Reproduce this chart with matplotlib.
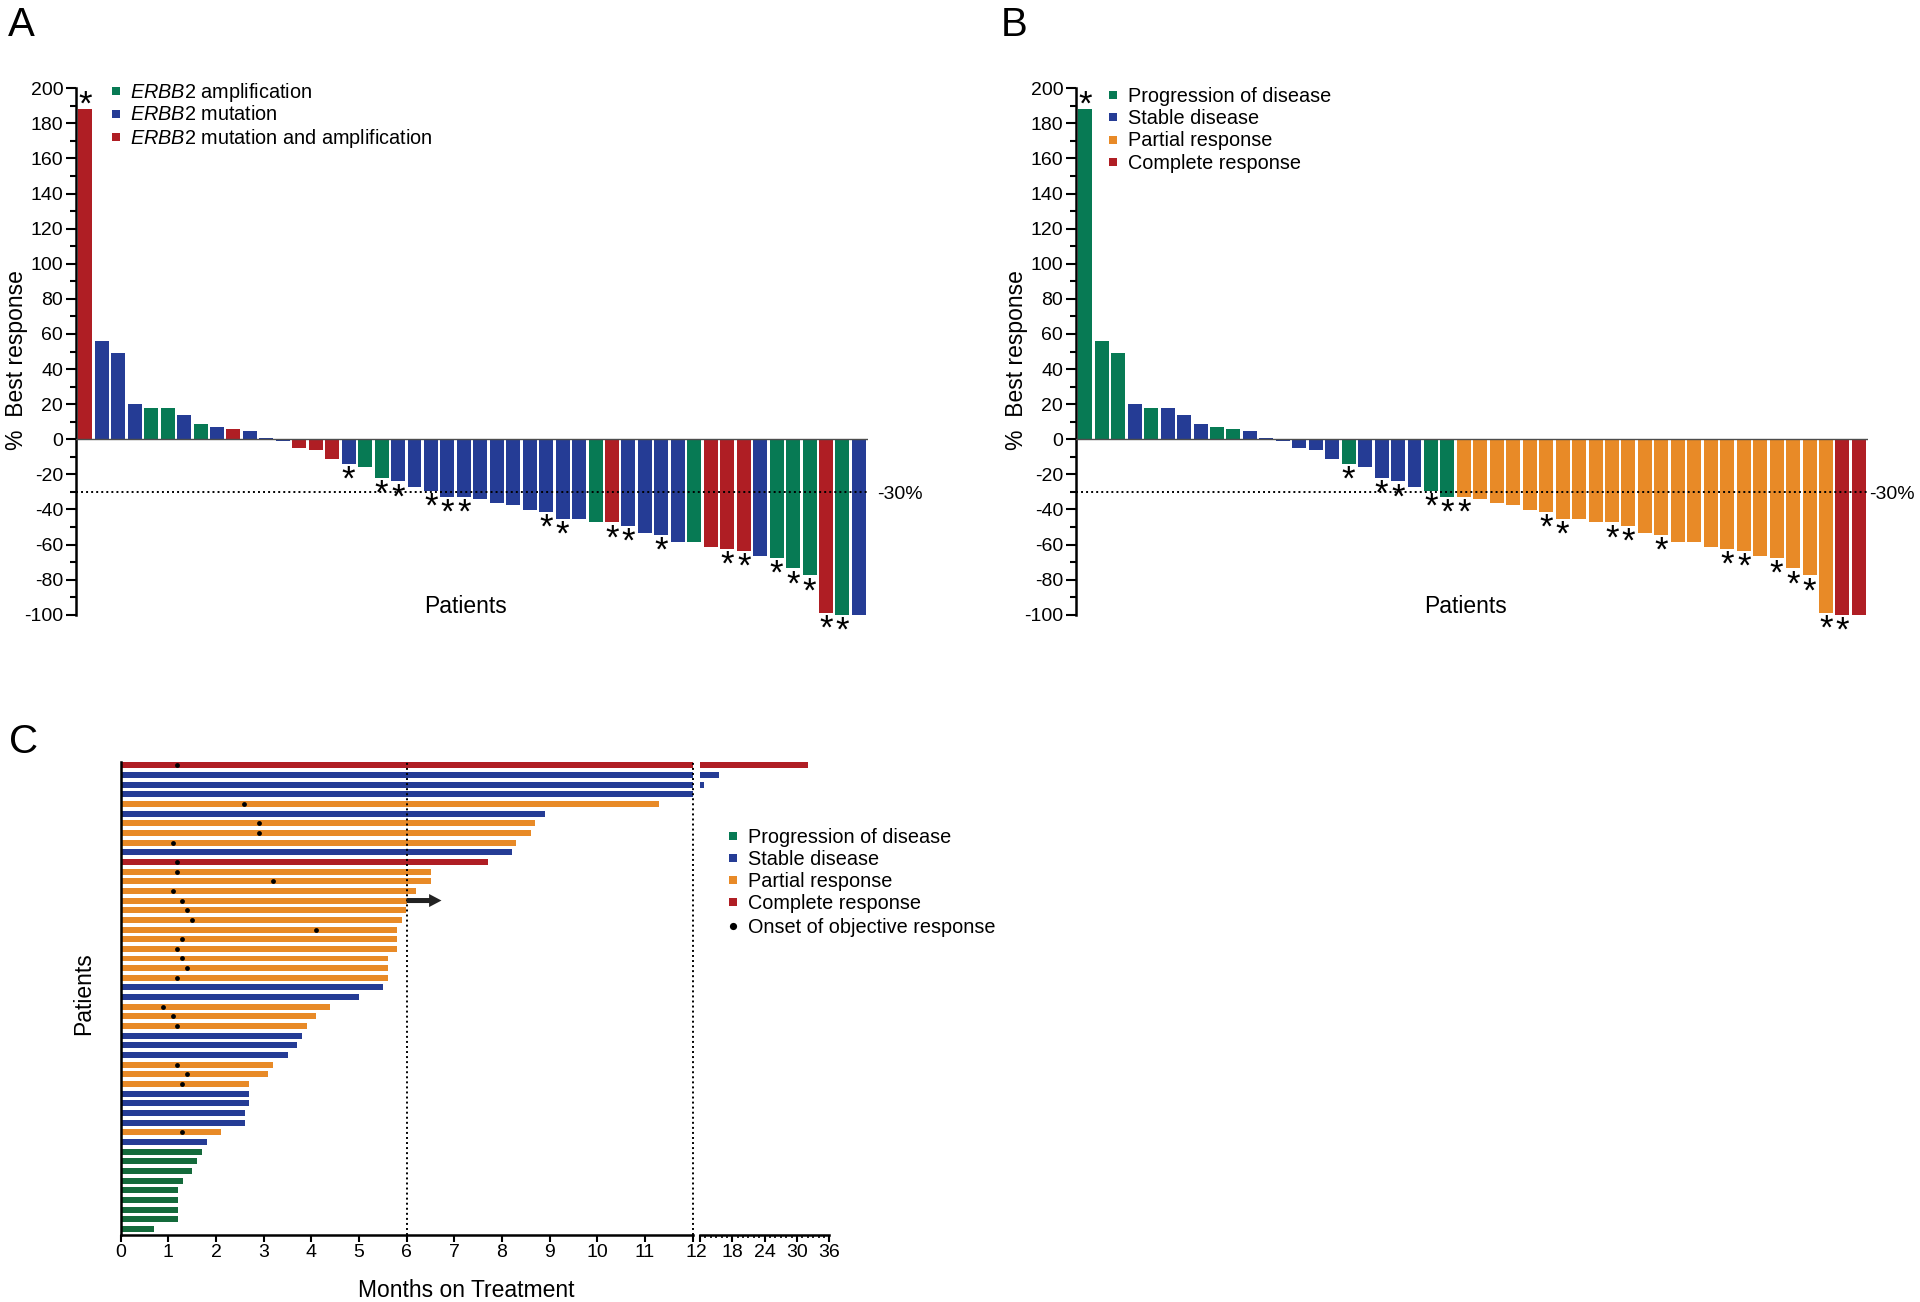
import numpy as np
import matplotlib
matplotlib.use('Agg')
import matplotlib.pyplot as plt
from matplotlib.lines import Line2D
from matplotlib.transforms import ScaledTranslation

plt.rcParams['font.family'] = ['Liberation Sans', 'DejaVu Sans']
plt.rcParams['mathtext.fontset'] = 'custom'
plt.rcParams['mathtext.rm'] = 'Liberation Sans'
plt.rcParams['mathtext.it'] = 'Liberation Sans:italic'
plt.rcParams['axes.unicode_minus'] = False

# ---------------- data ----------------
best_response = [188, 56, 49, 20, 18, 18, 14, 9, 7, 6, 5, 1, -1, -5, -6, -11,
                 -14, -16, -22, -24, -27, -29.4, -33, -33, -34.2, -36.1, -37.3,
                 -40.1, -41.3, -45.3, -45.3, -47.4, -47.4, -49.3, -53.3, -54.5,
                 -58.5, -58.5, -61.5, -62.5, -63.4, -66.5, -67.5, -73.6, -77.6,
                 -98.8, -100, -100]
genotype = ['MA', 'M', 'M', 'M', 'A', 'A', 'M', 'A', 'M', 'MA', 'M', 'M', 'M',
            'MA', 'MA', 'MA', 'M', 'A', 'A', 'M', 'M', 'M', 'M', 'M', 'M', 'M',
            'M', 'M', 'M', 'M', 'M', 'A', 'MA', 'M', 'M', 'M', 'M', 'A', 'MA',
            'MA', 'MA', 'M', 'A', 'A', 'A', 'MA', 'A', 'M']
response_b = (['PD', 'PD', 'PD', 'SD', 'PD', 'SD', 'SD', 'SD', 'PD', 'PD', 'SD',
               'SD', 'SD', 'SD', 'SD', 'SD', 'PD', 'SD', 'SD', 'SD', 'SD', 'PD',
               'PD'] + ['PR'] * 23 + ['CR', 'CR'])
starred = [1, 17, 19, 20, 22, 23, 24, 29, 30, 33, 34, 36, 40, 41, 43, 44, 45, 46, 47]
threshold = -30

months = [32.1, 15.5, 12.7, 12.0, 11.3, 8.9, 8.7, 8.6, 8.3, 8.2, 7.7, 6.5, 6.5,
          6.2, 6.0, 5.98, 5.9, 5.8, 5.8, 5.8, 5.6, 5.6, 5.6, 5.5, 5.0, 4.4, 4.1,
          3.9, 3.8, 3.7, 3.5, 3.2, 3.1, 2.7, 2.7, 2.7, 2.6, 2.6, 2.1, 1.8, 1.7,
          1.6, 1.5, 1.3, 1.2, 1.2, 1.2, 1.2, 0.7]
response_c = ['CR', 'SD', 'SD', 'SD', 'PR', 'SD', 'PR', 'PR', 'PR', 'SD', 'CR',
              'PR', 'PR', 'PR', 'PR', 'PR', 'PR', 'PR', 'PR', 'PR', 'PR', 'PR',
              'PR', 'SD', 'SD', 'PR', 'PR', 'PR', 'SD', 'SD', 'SD', 'PR', 'PR',
              'PR', 'SD', 'SD', 'SD', 'SD', 'PR', 'SD', 'PD', 'PD', 'PD', 'PD',
              'PD', 'PD', 'PD', 'PD', 'PD']
onset = [1.19, None, None, None, 2.59, None, 2.9, 2.9, 1.09, None, 1.19, 1.19,
         3.19, 1.09, 1.29, 1.39, 1.5, 4.1, 1.29, 1.19, 1.29, 1.39, 1.19, None,
         None, 0.89, 1.09, 1.19, None, None, None, 1.19, 1.39, 1.29, None, None,
         None, None, 1.29, None, None, None, None, None, None, None, None, None,
         None]
ongoing_rows = [15]

# ---------------- style ----------------
GREEN = '#077A54'
GREEN_C = '#146A3B'
BLUE = '#253C95'
RED = '#AF1E24'
ORANGE = '#E88A27'
geno_colors = {'A': GREEN, 'M': BLUE, 'MA': RED}
resp_colors = {'PD': GREEN, 'SD': BLUE, 'PR': ORANGE, 'CR': RED}
resp_colors_c = {'PD': GREEN_C, 'SD': BLUE, 'PR': ORANGE, 'CR': RED}

W, H = 1920, 1302
fig = plt.figure(figsize=(W / 100, H / 100), dpi=100)


def fx(px):
    return px / W


def fy(py):
    return 1 - py / H


DOT = (0, (1, 1.6))
TICK_FS = 14
LAB_FS = 16.5
LEG_FS = 14.3


def legend_row(x_sq, x_txt, y_c, color, label, marker='s', ms=5.6):
    fig.add_artist(Line2D([fx(x_sq)], [fy(y_c)], marker=marker, ms=ms,
                          color=color, mew=0, linestyle='none',
                          transform=fig.transFigure))
    fig.text(fx(x_txt), fy(y_c + 7), label, fontsize=LEG_FS, ha='left',
             va='baseline')


def waterfall(left_px, colors):
    ax = fig.add_axes([fx(left_px), fy(614.8), (868.3 - 76) / W, (614.8 - 88.3) / H])
    x = np.arange(len(best_response))
    ax.bar(x, best_response, width=0.85, color=colors, linewidth=0)
    ax.set_xlim(-0.565, 47.57)
    ax.set_ylim(-100, 200)
    for s in ['top', 'right', 'bottom']:
        ax.spines[s].set_visible(False)
    ax.spines['left'].set_linewidth(1.8)
    ax.set_yticks(np.arange(-100, 201, 20))
    ax.set_yticks(np.arange(-100, 201, 10), minor=True)
    ax.tick_params(axis='y', which='major', length=7.2, width=1.5,
                   labelsize=TICK_FS, pad=2)
    ax.tick_params(axis='y', which='minor', length=4.3, width=1.5)
    ax.set_xticks([])
    ax.axhline(0, color='#4d4d4d', lw=1.0, zorder=3)
    ax.axhline(threshold, color='black', lw=1.4, ls=DOT, zorder=3)
    for i in starred:
        v = best_response[i - 1]
        off = -4.0 if v > 0 else -18.5
        ax.annotate('*', xy=(i - 1, v), xytext=(0, off),
                    textcoords='offset points', ha='center', va='baseline',
                    fontsize=25, annotation_clip=False)
    return ax


# ---------------- panel A ----------------
axA = waterfall(76, [geno_colors[g] for g in genotype])
fig.text(fx(8), fy(36), 'A', fontsize=29, ha='left', va='baseline')
fig.text(fx(17), fy(360), '%  Best response', rotation=90, fontsize=LAB_FS,
         ha='center', va='center')
fig.text(fx(465), fy(613), 'Patients', fontsize=LAB_FS, ha='center', va='baseline')
fig.text(fx(877), fy(499), '-30%', fontsize=TICK_FS, ha='left', va='baseline')
legA = [(GREEN, r'$\mathit{ERBB2}$ amplification'),
        (BLUE, r'$\mathit{ERBB2}$ mutation'),
        (RED, r'$\mathit{ERBB2}$ mutation and amplification')]
for (c, lab), yy in zip(legA, [91, 113.5, 136.5]):
    legend_row(116, 130, yy, c, lab)

# ---------------- panel B ----------------
axB = waterfall(1076, [resp_colors[r] for r in response_b])
fig.text(fx(1001), fy(36), 'B', fontsize=29, ha='left', va='baseline')
fig.text(fx(1017), fy(360), '%  Best response', rotation=90, fontsize=LAB_FS,
         ha='center', va='center')
fig.text(fx(1465), fy(613), 'Patients', fontsize=LAB_FS, ha='center', va='baseline')
fig.text(fx(1869), fy(499), '-30%', fontsize=TICK_FS, ha='left', va='baseline')
legB = [(GREEN, 'Progression of disease'), (BLUE, 'Stable disease'),
        (ORANGE, 'Partial response'), (RED, 'Complete response')]
for (c, lab), yy in zip(legB, [95, 117.3, 139.5, 161.7]):
    legend_row(1113, 1128, yy, c, lab)

# ---------------- panel C ----------------
top_c, bot_c = 761.7, 1235
axc1 = fig.add_axes([fx(120.7), fy(bot_c), (692.7 - 120.7) / W, (bot_c - top_c) / H])
axc2 = fig.add_axes([fx(700), fy(bot_c), (829.3 - 700) / W, (bot_c - top_c) / H])
rows = np.arange(len(months))
ccols = [resp_colors_c[r] for r in response_c]
for ax in (axc1, axc2):
    ax.barh(rows, months, height=0.62, color=ccols, linewidth=0)
    ax.set_ylim(48.62, -0.37)
    ax.set_yticks([])
    for s in ['top', 'right']:
        ax.spines[s].set_visible(False)
    ax.spines['bottom'].set_linewidth(1.8)
axc1.spines['left'].set_linewidth(1.8)
axc2.spines['left'].set_visible(False)

axc1.set_xlim(0, 12)
axc1.set_xticks(np.arange(0, 13, 1))
axc1.set_xticklabels([str(v) for v in range(13)])
axc1.tick_params(axis='x', length=5, width=1.5, labelsize=TICK_FS, pad=1.5)
lab12 = axc1.get_xticklabels()[-1]
lab12.set_transform(lab12.get_transform() + ScaledTranslation(4 / 100, 0, fig.dpi_scale_trans))

axc2.set_xlim(12, 36)
axc2.set_xticks([12, 18, 24, 30, 36])
axc2.set_xticklabels(['', '18', '24', '30', '36'])
axc2.set_xticks(np.arange(12, 37, 1), minor=True)
axc2.tick_params(axis='x', which='major', length=5, width=1.5, labelsize=TICK_FS, pad=1.5)
axc2.tick_params(axis='x', which='minor', length=2.5, width=1.2)

ox = [o for o in onset if o is not None]
oy = [i for i, o in enumerate(onset) if o is not None]
axc1.scatter(ox, oy, s=12, color='black', linewidths=0, zorder=4)

axc1.axvline(6, color='black', lw=1.4, ls=DOT, zorder=3)
axc1.axvline(12, color='black', lw=1.4, ls=DOT, zorder=3, clip_on=False)

for r in ongoing_rows:
    axc1.arrow(months[r - 1], r - 1, 0.73, 0, width=0.52, head_width=1.35,
               head_length=0.26, length_includes_head=True, color='#222222',
               linewidth=0, zorder=4)

fig.text(fx(9), fy(753), 'C', fontsize=29, ha='left', va='baseline')
fig.text(fx(84), fy(994), 'Patients', rotation=90, fontsize=LAB_FS, ha='center', va='center')
fig.text(fx(466), fy(1297), 'Months on Treatment', fontsize=LAB_FS, ha='center', va='baseline')

legC = [(GREEN, 'Progression of disease', 's'), (BLUE, 'Stable disease', 's'),
        (ORANGE, 'Partial response', 's'), (RED, 'Complete response', 's'),
        ('black', 'Onset of objective response', 'o')]
for (c, lab, m), yy in zip(legC, [836, 858, 880, 902.3, 926]):
    legend_row(733, 748, yy, c, lab, marker=m, ms=5.6 if m == 's' else 5.2)

fig.savefig('out.png', dpi=100)
